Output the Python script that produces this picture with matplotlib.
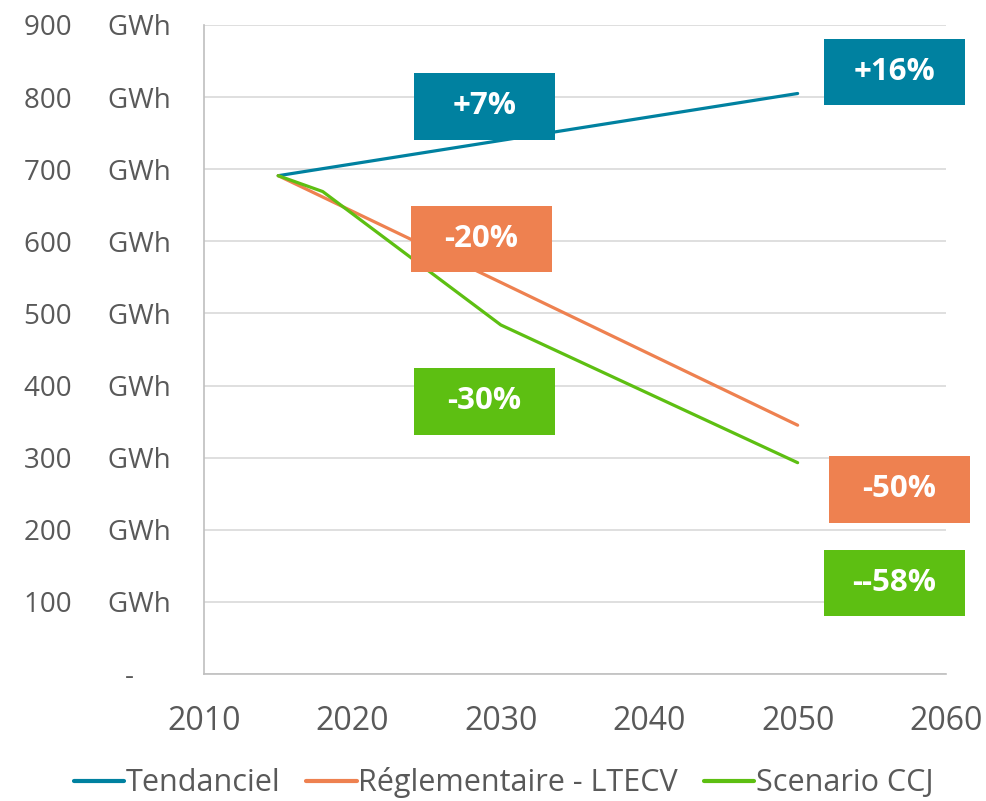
import numpy as np
import matplotlib.pyplot as plt
from matplotlib.patches import Rectangle

# Données (GWh)
annees_tend = [2015, 2050]
tendanciel = [691, 805]

annees_regl = [2015, 2030, 2050]
reglementaire = [691, 543, 345]

annees_ccj = [2015, 2018, 2030, 2050]
scenario_ccj = [691, 669, 484, 293]

series = ["Tendanciel", "Réglementaire - LTECV", "Scenario CCJ"]
couleurs = ["#0081A0", "#EE8150", "#5DBF12"]

# étiquettes (texte, x, y centre en données, série)
etiquettes = [
    ("+7%", 2028.9, 787, 0),
    ("+16%", 2056.55, 835, 0),
    ("-20%", 2028.7, 603, 1),
    ("-50%", 2056.85, 256, 1),
    ("-30%", 2028.9, 378, 2),
    ("--58%", 2056.5, 126, 2),
]
larg_box, haut_box = 9.5, 92

y_ticks = list(range(0, 1000, 100))
y_labels = ["-     "] + [f"{v}     GWh" for v in y_ticks[1:]]
x_ticks = list(range(2010, 2070, 10))

plt.rcParams['font.family'] = ['Open Sans', 'DejaVu Sans']

fig = plt.figure(figsize=(9.87, 8.01), dpi=100)
ax = fig.add_axes([0.2067, 0.1586, 0.7518, 0.8102])

ax.plot(annees_tend, tendanciel, color=couleurs[0], lw=2.3, label=series[0],
        solid_capstyle='round')
ax.plot(annees_regl, reglementaire, color=couleurs[1], lw=2.3, label=series[1],
        solid_capstyle='round')
ax.plot(annees_ccj, scenario_ccj, color=couleurs[2], lw=2.3, label=series[2],
        solid_capstyle='round')

for txt, xc, yc, i in etiquettes:
    ax.add_patch(Rectangle((xc - larg_box / 2, yc - haut_box / 2), larg_box, haut_box,
                           facecolor=couleurs[i], edgecolor='none', zorder=5,
                           clip_on=False))
    ax.text(xc, yc, txt, color='white', fontsize=22.5, fontweight='bold',
            ha='center', va='center', zorder=6)

ax.set_xlim(2010, 2060)
ax.set_ylim(0, 900)
ax.set_yticks(y_ticks)
ax.set_yticklabels(y_labels)
ax.set_xticks(x_ticks)
ax.tick_params(axis='both', length=0, colors='#595959')
ax.tick_params(axis='y', pad=24, labelsize=20)
ax.tick_params(axis='x', pad=22, labelsize=23)
ax.grid(axis='y', color='#D9D9D9', lw=1.2)
ax.set_axisbelow(True)
for s in ['top', 'right']:
    ax.spines[s].set_visible(False)
for s in ['left', 'bottom']:
    ax.spines[s].set_color('#BFBFBF')
    ax.spines[s].set_linewidth(1.2)

leg = fig.legend(loc='lower center', bbox_to_anchor=(0.51, -0.031), ncol=3,
                 frameon=False, fontsize=22, handlelength=1.65, handletextpad=0.05,
                 columnspacing=0.85)
for t in leg.get_texts():
    t.set_color('#595959')
for h in leg.get_lines():
    h.set_linewidth(3)

fig.savefig('out.png', dpi=100)
